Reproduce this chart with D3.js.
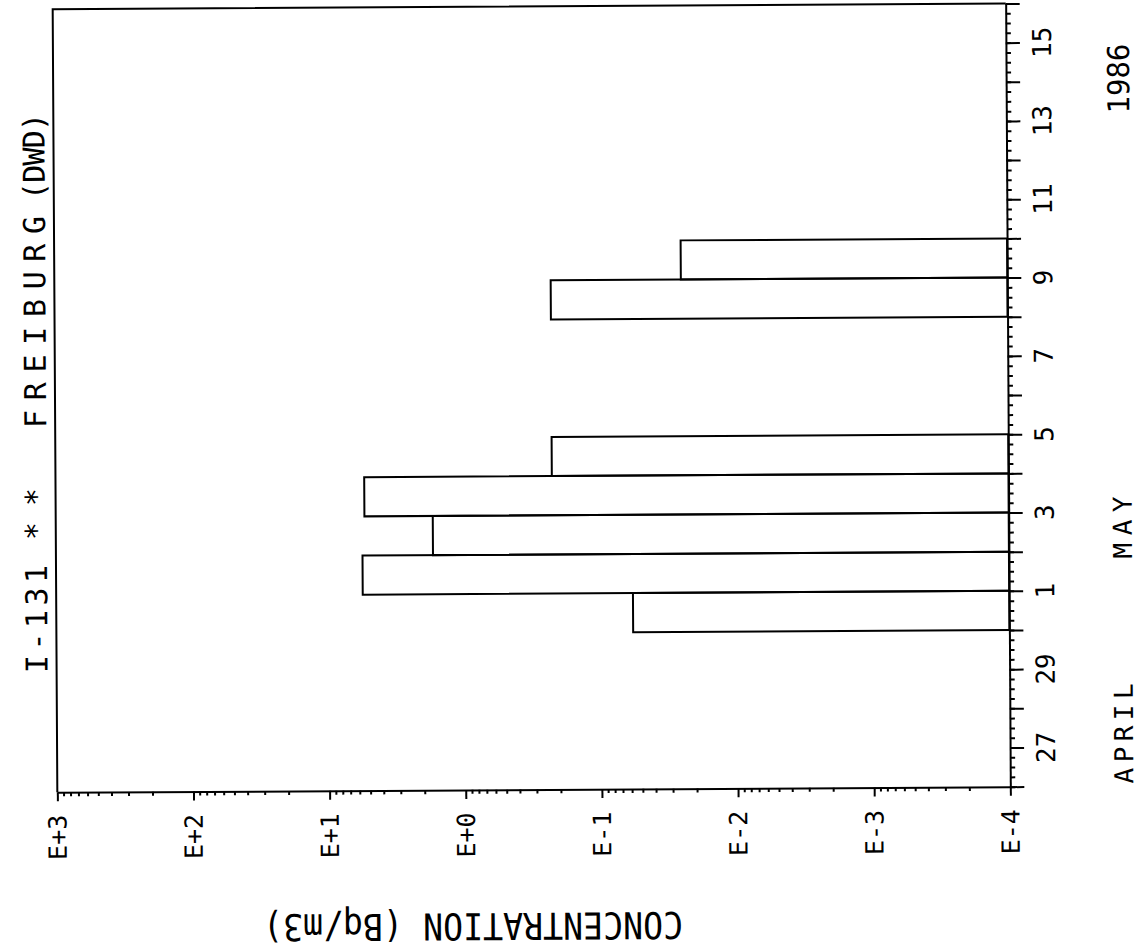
<!DOCTYPE html>
<html><head><meta charset="utf-8">
<script src="https://cdn.jsdelivr.net/npm/d3@7"></script>
<style>
body{margin:0;background:#fff}
svg{display:block}
text{font-family:"DejaVu Sans Mono",monospace;fill:#000}
</style>
</head><body>
<svg id="chart" width="1141" height="951"></svg>
<script>
// ---- data ----
const concTickValues = [1e3, 1e2, 1e1, 1e0, 1e-1, 1e-2, 1e-3, 1e-4];
const concTickLabels = ["E+3", "E+2", "E+1", "E+0", "E-1", "E-2", "E-3", "E-4"];
const dayLabelDates = ["1986-04-27","1986-04-29","1986-05-01","1986-05-03","1986-05-05","1986-05-07","1986-05-09","1986-05-11","1986-05-13","1986-05-15"];
const dayLabels = ["27","29","1","3","5","7","9","11","13","15"];
const barDays = ["1986-04-30","1986-05-01","1986-05-02","1986-05-03","1986-05-04","1986-05-08","1986-05-09"];
const barValues = [0.058, 5.6, 1.7, 5.4, 0.226, 0.226, 0.025];
const titleParts = ["I-131", "**", "FREIBURG", "(DWD)"];
const monthLabels = ["APRIL", "MAY"];
const yearLabel = "1986";
const axisTitle = "CONCENTRATION (Bq/m3)";

// ---- layout ----
const parse = d3.utcParse("%Y-%m-%d");
const L = 55, R = 1008, T = 6.3, B = 789.5;
const svg = d3.select("#chart");
const g = svg.append("g").attr("transform", "rotate(-0.34,531.5,398)");

const x = d3.scaleLog().domain([1e3, 1e-4]).range([L, R]);
const y = d3.scaleUtc().domain([parse("1986-04-26"), parse("1986-05-16")]).range([B, T]);

const SW = 2;
g.append("path").attr("d", d3.line()([[L, B], [L, T], [R, T]]))
  .attr("fill", "none").attr("stroke", "#000").attr("stroke-width", SW);

// bars
const bars = barDays.map((d, i) => ({start: parse(d), end: d3.utcDay.offset(parse(d), 1), v: barValues[i]}));
g.selectAll("rect.bar").data(bars).join("rect").attr("class", "bar")
  .attr("x", d => x(d.v)).attr("width", d => x(1e-4) - x(d.v))
  .attr("y", d => y(d.end)).attr("height", d => y(d.start) - y(d.end))
  .attr("fill", "none").attr("stroke", "#000").attr("stroke-width", SW);

// bottom (log) axis
const minor = [];
for (let e = -4; e < 3; e++) for (let k = 2; k <= 9; k++) minor.push(k * Math.pow(10, e));
const bx1 = g.append("g").attr("transform", `translate(0,${B})`)
  .call(d3.axisBottom(x).tickValues(minor).tickSize(4).tickFormat(""));
bx1.select(".domain").remove();
const bx2 = g.append("g").attr("transform", `translate(0,${B})`)
  .call(d3.axisBottom(x).tickValues(concTickValues).tickSize(9).tickSizeOuter(0).tickFormat(""));
[bx1, bx2].forEach(a => { a.selectAll("line").attr("stroke-width", SW); a.select(".domain").attr("stroke-width", SW); });

// right (date) axis
const ry1 = g.append("g").attr("transform", `translate(${R},0)`)
  .call(d3.axisRight(y).ticks(d3.utcHour.every(6)).tickSize(5).tickFormat(""));
ry1.select(".domain").remove();
const ry2 = g.append("g").attr("transform", `translate(${R},0)`)
  .call(d3.axisRight(y).ticks(d3.utcDay.every(1)).tickSize(14).tickSizeOuter(0).tickFormat(""));
[ry1, ry2].forEach(a => { a.selectAll("line").attr("stroke-width", SW); a.select(".domain").attr("stroke-width", SW); });

// concentration tick labels
g.selectAll("text.cl").data(concTickValues).join("text").attr("class", "cl")
  .attr("transform", d => `translate(${x(d)},812) rotate(-90)`)
  .attr("text-anchor", "end").attr("dy", "0.36em").attr("font-size", 25)
  .text((d, i) => concTickLabels[i]);

// date tick labels
g.selectAll("text.dl").data(dayLabelDates).join("text").attr("class", "dl")
  .attr("transform", d => `translate(1053,${y(parse(d))}) rotate(-90)`)
  .attr("text-anchor", "middle").attr("font-size", 26)
  .text((d, i) => dayLabels[i]);

// month / year labels
g.append("text").attr("transform", `translate(1131,737) rotate(-90)`).attr("text-anchor", "middle")
  .attr("font-size", 26).attr("textLength", 100).attr("lengthAdjust", "spacing").text(monthLabels[0]);
g.append("text").attr("transform", `translate(1131,531) rotate(-90)`).attr("text-anchor", "middle")
  .attr("font-size", 26).attr("textLength", 62).attr("lengthAdjust", "spacing").text(monthLabels[1]);
g.append("text").attr("transform", `translate(1131,82) rotate(-90)`).attr("text-anchor", "middle")
  .attr("font-size", 30).attr("textLength", 70).attr("lengthAdjust", "spacingAndGlyphs").text(yearLabel);

// axis title (upside down)
g.append("text").attr("transform", `translate(470,913) rotate(180)`).attr("text-anchor", "middle")
  .attr("font-size", 37).attr("textLength", 420).attr("lengthAdjust", "spacingAndGlyphs").text(axisTitle);

// chart title (outside the frame, left side)
const titlePos = [[670, 108], [537, 52], [425, 212], [197, 87]];
titleParts.forEach((t, i) => {
  g.append("text").attr("transform", `translate(46,${titlePos[i][0]}) rotate(-90)`)
    .attr("text-anchor", "start").attr("font-size", 30)
    .attr("textLength", titlePos[i][1]).attr("lengthAdjust", "spacing").text(t);
});
</script>
</body></html>
